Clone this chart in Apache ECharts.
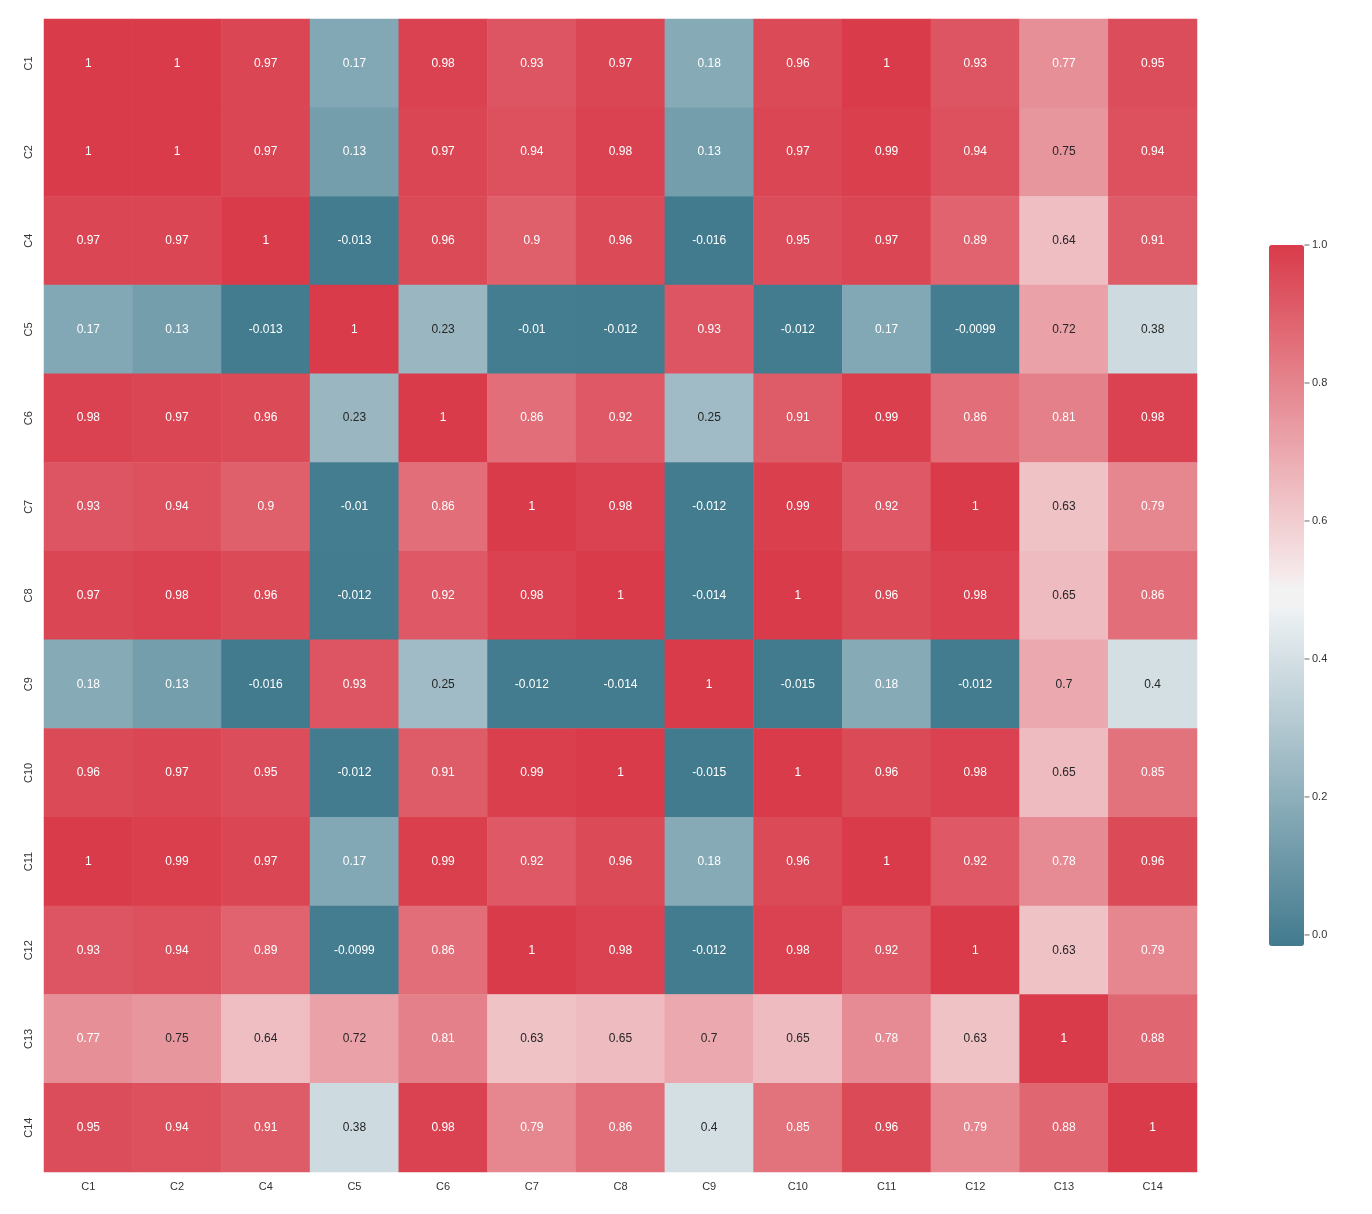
<!DOCTYPE html>
<html>
<head>
<meta charset="utf-8">
<script src="https://cdn.jsdelivr.net/npm/echarts@6/dist/echarts.min.js"></script>
<style>
html,body{margin:0;padding:0;background:#fff;}
#chart{width:1372px;height:1214px;}
</style>
</head>
<body>
<div id="chart"></div>
<script>
// ---- data ----
const categories = ['C1','C2','C4','C5','C6','C7','C8','C9','C10','C11','C12','C13','C14'];
const rowC1  = [1, 1, 0.97, 0.17, 0.98, 0.93, 0.97, 0.18, 0.96, 1, 0.93, 0.77, 0.95];
const rowC2  = [1, 1, 0.97, 0.13, 0.97, 0.94, 0.98, 0.13, 0.97, 0.99, 0.94, 0.75, 0.94];
const rowC4  = [0.97, 0.97, 1, -0.013, 0.96, 0.9, 0.96, -0.016, 0.95, 0.97, 0.89, 0.64, 0.91];
const rowC5  = [0.17, 0.13, -0.013, 1, 0.23, -0.01, -0.012, 0.93, -0.012, 0.17, -0.0099, 0.72, 0.38];
const rowC6  = [0.98, 0.97, 0.96, 0.23, 1, 0.86, 0.92, 0.25, 0.91, 0.99, 0.86, 0.81, 0.98];
const rowC7  = [0.93, 0.94, 0.9, -0.01, 0.86, 1, 0.98, -0.012, 0.99, 0.92, 1, 0.63, 0.79];
const rowC8  = [0.97, 0.98, 0.96, -0.012, 0.92, 0.98, 1, -0.014, 1, 0.96, 0.98, 0.65, 0.86];
const rowC9  = [0.18, 0.13, -0.016, 0.93, 0.25, -0.012, -0.014, 1, -0.015, 0.18, -0.012, 0.7, 0.4];
const rowC10 = [0.96, 0.97, 0.95, -0.012, 0.91, 0.99, 1, -0.015, 1, 0.96, 0.98, 0.65, 0.85];
const rowC11 = [1, 0.99, 0.97, 0.17, 0.99, 0.92, 0.96, 0.18, 0.96, 1, 0.92, 0.78, 0.96];
const rowC12 = [0.93, 0.94, 0.89, -0.0099, 0.86, 1, 0.98, -0.012, 0.98, 0.92, 1, 0.63, 0.79];
const rowC13 = [0.77, 0.75, 0.64, 0.72, 0.81, 0.63, 0.65, 0.7, 0.65, 0.78, 0.63, 1, 0.88];
const rowC14 = [0.95, 0.94, 0.91, 0.38, 0.98, 0.79, 0.86, 0.4, 0.85, 0.96, 0.79, 0.88, 1];
const rows = [rowC1,rowC2,rowC4,rowC5,rowC6,rowC7,rowC8,rowC9,rowC10,rowC11,rowC12,rowC13,rowC14];
const vmin = -0.016, vmax = 1;
const colorbarTicks = [0, 0.2, 0.4, 0.6, 0.8, 1.0];

// ---- colormap (diverging blue - light - red) ----
const NEG = [66,122,142], NEG_L = [237,241,243], MID = [242,242,242], POS_L = [246,236,237], POS = [217,59,74];
function blend(a,b,n){const out=[];for(let i=0;i<n;i++){const t=n===1?0:i/(n-1);out.push([0,1,2].map(k=>Math.round(a[k]+(b[k]-a[k])*t)));}return out;}
const cmap = [].concat(blend(NEG,NEG_L,123), Array.from({length:10},()=>MID), blend(POS_L,POS,123));
const toHex = c => '#'+c.map(v=>v.toString(16).padStart(2,'0')).join('');
const cmapHex = cmap.map(toHex);
function colorOf(v){
  let t=(v-vmin)/(vmax-vmin); t=Math.max(0,Math.min(1,t));
  const p=t*(cmap.length-1), i=Math.floor(p), f=p-i;
  const a=cmap[i], b=cmap[Math.min(i+1,cmap.length-1)];
  return [0,1,2].map(k=>a[k]+(b[k]-a[k])*f);
}
function lum(c){
  const l=c.map(x=>{x/=255;return x<=0.03928?x/12.92:Math.pow((x+0.055)/1.055,2.4);});
  return 0.2126*l[0]+0.7152*l[1]+0.0722*l[2];
}
function fmt(v){return String(+v.toPrecision(2));}

const data=[];
rows.forEach((r,yi)=>r.forEach((v,xi)=>{
  data.push({value:[xi,yi,v], label:{color: lum(colorOf(v))>0.408 ? '#262626' : '#ffffff'}});
}));
const tickData = colorbarTicks.map(v=>[1, v]);

const FONT = '"Liberation Sans", Arial, sans-serif';
const chart = echarts.init(document.getElementById('chart'));
chart.setOption({
  animation:false,
  backgroundColor:'#ffffff',
  grid:[
    {left:44, top:19, width:1153, height:1153},
    {left:1269, top:245, width:35, height:701}
  ],
  xAxis:[
    {type:'category', data:categories, gridIndex:0, position:'bottom',
     axisLine:{show:false}, axisTick:{show:false}, splitLine:{show:false},
     axisLabel:{color:'#333', fontSize:11, fontFamily:FONT, margin:9}},
    {type:'value', gridIndex:1, show:false, min:0, max:1}
  ],
  yAxis:[
    {type:'category', data:categories, gridIndex:0, inverse:true,
     axisLine:{show:false}, axisTick:{show:false}, splitLine:{show:false},
     axisLabel:{color:'#333', fontSize:11, fontFamily:FONT, rotate:90, margin:10}},
    {type:'value', gridIndex:1, position:'right', min:vmin, max:vmax,
     axisLine:{show:false}, splitLine:{show:false}, axisTick:{show:false},
     axisLabel:{color:'#333', fontSize:11, fontFamily:FONT, margin:8,
       customValues:colorbarTicks, formatter:v=>Number(v).toFixed(1)}}
  ],
  visualMap:{
    type:'continuous', min:vmin, max:vmax, calculable:false, show:true,
    seriesIndex:0, orient:'vertical', left:1269, top:245, itemWidth:35, itemHeight:701,
    padding:0, text:null, showLabel:false, hoverLink:false,
    inRange:{color:cmapHex}
  },
  series:[
    {type:'heatmap', xAxisIndex:0, yAxisIndex:0, data:data,
     label:{show:true, fontSize:12, fontFamily:FONT, formatter:p=>fmt(p.value[2])},
     itemStyle:{borderWidth:0}, emphasis:{disabled:true}},
    {type:'scatter', xAxisIndex:1, yAxisIndex:1, data:tickData, silent:true, z:10,
     symbol:'rect', symbolSize:[5,1], symbolOffset:[3,0],
     itemStyle:{color:'#444'}, clip:false}
  ]
});
</script>
</body>
</html>
